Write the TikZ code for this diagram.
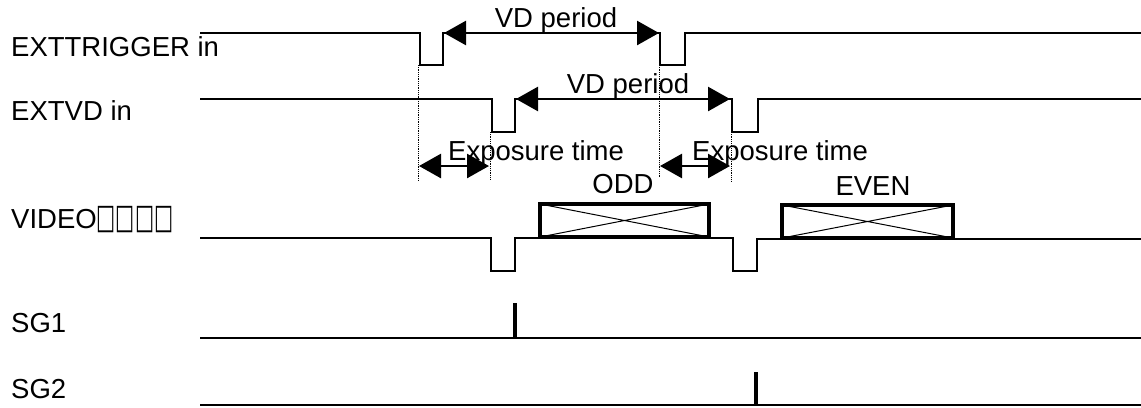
\documentclass[tikz,border=0pt]{standalone}
\usepackage{fontspec}
\usepackage{graphicx}
\setmainfont{Liberation Sans}
\newfontfamily\symfont{DejaVu Sans}
\usetikzlibrary{arrows.meta}
\begin{document}
\begin{tikzpicture}[x=1bp,y=-1bp,
  sig/.style={line width=2bp,line join=miter},
  guide/.style={densely dotted,line width=0.8bp},
  dbl/.style={line width=2.6bp,{Triangle[length=22bp,width=24bp]}-{Triangle[length=22bp,width=24bp]}},
  lbl/.style={font=\fontsize{27.5bp}{33bp}\selectfont,inner sep=0pt},
  frame/.style={line width=4.5bp},
  cross/.style={line width=1bp},
  pulse/.style={line width=4bp}]
\useasboundingbox (0,0) rectangle (1141,407);
% labels
\node[lbl,anchor=base west] (l1) at (11,56) {EXTTRIGGER in};
\node[lbl,anchor=base west] (l2) at (11,120) {EXTVD in};
\node[lbl,anchor=base west] (l3) at (11,228) {VIDEO\scalebox{0.88}[1.5]{\symfont\fontsize{23bp}{28bp}\selectfont □□□□}};
\node[lbl,anchor=base west] (l4) at (11,332) {SG1};
\node[lbl,anchor=base west] (l5) at (11,398) {SG2};
% signals
\draw[sig] (200,33) -- (420,33) -- (420,65) -- (443,65) -- (443,33) -- (660,33) -- (660,65) -- (685,65) -- (685,33) -- (1141,33);
\draw[sig] (200,99) -- (492,99) -- (492,132) -- (515,132) -- (515,99) -- (732,99) -- (732,132) -- (758,132) -- (758,99) -- (1141,99);
\draw[sig] (200,238) -- (491,238) -- (491,271) -- (515,271) -- (515,238) -- (733,238) -- (733,271) -- (757,271) -- (757,239) -- (1141,239);
\draw[sig] (200,338) -- (1141,338);
\draw[sig] (200,405) -- (1141,405);
\draw[pulse] (515,303) -- (515,338);
\draw[pulse] (756,372) -- (756,405);
% guides
\coordinate (g1t) at (418,65); \coordinate (g1b) at (418,180);
\coordinate (g2t) at (490,132); \coordinate (g2b) at (490,180);
\coordinate (g3t) at (659,65); \coordinate (g3b) at (659,178);
\coordinate (g4t) at (731,132); \coordinate (g4b) at (731,182);
\draw[guide] (g1t) -- (g1b);
\draw[guide] (g2t) -- (g2b);
\draw[guide] (g3t) -- (g3b);
\draw[guide] (g4t) -- (g4b);
% arrows
\coordinate (a1) at (444,33); \coordinate (b1) at (659,33);
\coordinate (a2) at (516,99); \coordinate (b2) at (730,99);
\coordinate (a3) at (419,166); \coordinate (b3) at (489,166);
\coordinate (a4) at (660,166); \coordinate (b4) at (730,166);
\draw[dbl] (a1) -- (b1);
\draw[dbl] (a2) -- (b2);
\draw[dbl] (a3) -- (b3);
\draw[dbl] (a4) -- (b4);
\node[lbl,anchor=base] (vd1) at (556,27) {VD period};
\node[lbl,anchor=base] (vd2) at (628,93) {VD period};
\node[lbl,anchor=base west] (ex1) at (448,160) {Exposure time};
\node[lbl,anchor=base west] (ex2) at (692,160) {Exposure time};
% data boxes
\draw[cross] (540,204) -- (709,237) (540,237) -- (709,204);
\draw[frame] (540,204) rectangle (709,237);
\node[lbl,anchor=base] (odd) at (623,193) {ODD};
\draw[cross] (782,205) -- (953,238) (782,238) -- (953,205);
\draw[frame] (782,205) rectangle (953,238);
\node[lbl,anchor=base] (even) at (873,195) {EVEN};
\end{tikzpicture}
\end{document}
